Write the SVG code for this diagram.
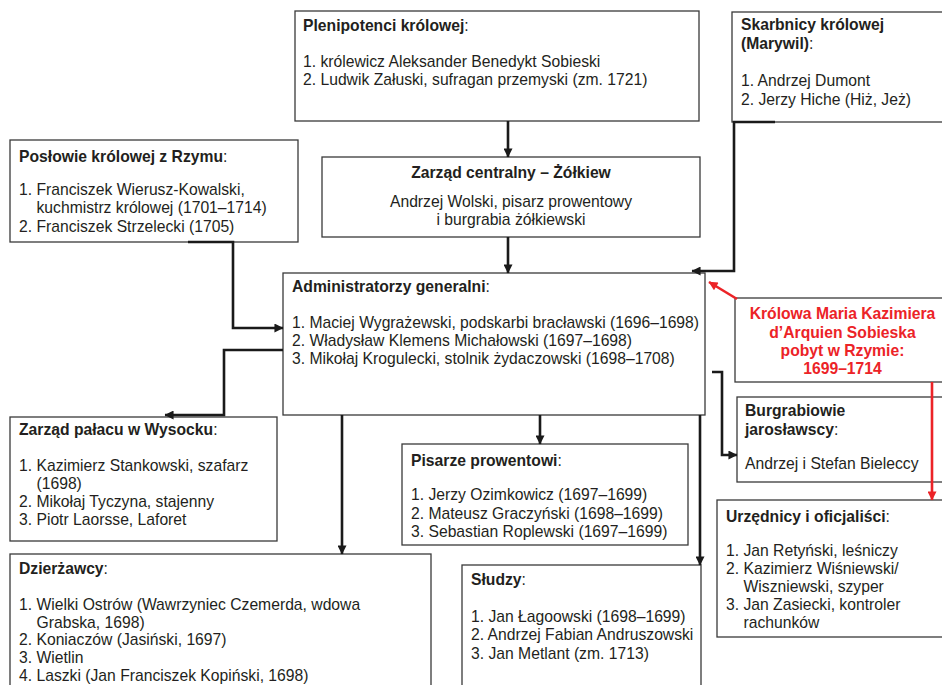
<svg xmlns="http://www.w3.org/2000/svg" width="942" height="685" viewBox="0 0 942 685">
<style>
.b{fill:#fff;stroke:#3a3a3a;stroke-width:1.3}
.rb{fill:#fff;stroke:#3a3a3a;stroke-width:1.3}
text{font-family:"Liberation Sans",Arial,sans-serif;font-size:15.7px;fill:#231f20}
.h{font-weight:bold}
.m{text-anchor:middle}
.red{fill:#ec2327;font-weight:bold;text-anchor:middle}
.c{fill:none;stroke:#1a1a1a;stroke-width:2.6}
.cr{fill:none;stroke:#ec2327;stroke-width:2.6}
</style>
<defs>
<marker id="ah" viewBox="0 0 10 10" refX="9.5" refY="5" markerWidth="10" markerHeight="9" markerUnits="userSpaceOnUse" orient="auto"><path d="M0,0 L10,5 L0,10 z" fill="#1a1a1a"/></marker>
<marker id="ahr" viewBox="0 0 10 10" refX="9.5" refY="5" markerWidth="10" markerHeight="9" markerUnits="userSpaceOnUse" orient="auto"><path d="M0,0 L10,5 L0,10 z" fill="#ec2327"/></marker>
</defs>
<rect width="942" height="685" fill="#fff"/>

<g id="plenipotenci">
<rect class="b" x="295" y="11" width="404" height="110"/>
<text x="303" y="31"><tspan class="h">Plenipotenci królowej</tspan>:</text>
<text x="303" y="67">1. królewicz Aleksander Benedykt Sobieski</text>
<text x="303" y="85">2. Ludwik Załuski, sufragan przemyski (zm. 1721)</text>
</g>

<g id="skarbnicy">
<rect class="b" x="732" y="12" width="220" height="110"/>
<text x="741" y="30" class="h">Skarbnicy królowej</text>
<text x="741" y="49"><tspan class="h">(Marywil)</tspan>:</text>
<text x="741" y="86">1. Andrzej Dumont</text>
<text x="741" y="105">2. Jerzy Hiche (Hiż, Jeż)</text>
</g>

<g id="poslowie">
<rect class="b" x="10" y="140" width="288" height="102"/>
<text x="19" y="162"><tspan class="h">Posłowie królowej z Rzymu</tspan>:</text>
<text x="19" y="195">1. Franciszek Wierusz-Kowalski,</text>
<text x="36.5" y="213">kuchmistrz królowej (1701–1714)</text>
<text x="19" y="232">2. Franciszek Strzelecki (1705)</text>
</g>

<g id="zarzad-centralny">
<rect class="b" x="322" y="157" width="378" height="80"/>
<text x="511" y="178" class="h m">Zarząd centralny – Żółkiew</text>
<text x="511" y="207" class="m">Andrzej Wolski, pisarz prowentowy</text>
<text x="511" y="225" class="m">i burgrabia żółkiewski</text>
</g>

<g id="administratorzy">
<rect class="b" x="283" y="273" width="422" height="142"/>
<text x="292" y="292"><tspan class="h">Administratorzy generalni</tspan>:</text>
<text x="292" y="328">1. Maciej Wygrażewski, podskarbi bracławski (1696–1698)</text>
<text x="292" y="346">2. Władysław Klemens Michałowski (1697–1698)</text>
<text x="292" y="364">3. Mikołaj Krogulecki, stolnik żydaczowski (1698–1708)</text>
</g>

<g id="krolowa">
<rect class="rb" x="735" y="298" width="217" height="84"/>
<text x="842.5" y="319" class="red">Królowa Maria Kazimiera</text>
<text x="842.5" y="338" class="red">d’Arquien Sobieska</text>
<text x="842.5" y="356" class="red">pobyt w Rzymie:</text>
<text x="842.5" y="374" class="red">1699–1714</text>
</g>

<g id="burgrabiowie">
<rect class="b" x="737" y="397" width="215" height="85"/>
<text x="745" y="416" class="h">Burgrabiowie</text>
<text x="745" y="435"><tspan class="h">jarosławscy</tspan>:</text>
<text x="745" y="469">Andrzej i Stefan Bieleccy</text>
</g>

<g id="palac">
<rect class="b" x="10" y="417" width="267" height="124"/>
<text x="19" y="435"><tspan class="h">Zarząd pałacu w Wysocku</tspan>:</text>
<text x="19" y="471">1. Kazimierz Stankowski, szafarz</text>
<text x="36.5" y="489">(1698)</text>
<text x="19" y="507">2. Mikołaj Tyczyna, stajenny</text>
<text x="19" y="525">3. Piotr Laorsse, Laforet</text>
</g>

<g id="pisarze">
<rect class="b" x="402" y="444" width="286" height="101"/>
<text x="411" y="466"><tspan class="h">Pisarze prowentowi</tspan>:</text>
<text x="411" y="500">1. Jerzy Ozimkowicz (1697–1699)</text>
<text x="411" y="519">2. Mateusz Graczyński (1698–1699)</text>
<text x="411" y="537">3. Sebastian Roplewski (1697–1699)</text>
</g>

<g id="urzednicy">
<rect class="b" x="717" y="500" width="235" height="137"/>
<text x="726" y="522"><tspan class="h">Urzędnicy i oficjaliści</tspan>:</text>
<text x="726" y="556">1. Jan Retyński, leśniczy</text>
<text x="726" y="574">2. Kazimierz Wiśniewski/</text>
<text x="743.5" y="592">Wiszniewski, szyper</text>
<text x="726" y="610">3. Jan Zasiecki, kontroler</text>
<text x="743.5" y="628">rachunków</text>
</g>

<g id="dzierzawcy">
<rect class="b" x="10" y="554" width="421" height="150"/>
<text x="19" y="574"><tspan class="h">Dzierżawcy</tspan>:</text>
<text x="19" y="610">1. Wielki Ostrów (Wawrzyniec Czemerda, wdowa</text>
<text x="36.5" y="627.5">Grabska, 1698)</text>
<text x="19" y="645">2. Koniaczów (Jasiński, 1697)</text>
<text x="19" y="663">3. Wietlin</text>
<text x="19" y="680.5">4. Laszki (Jan Franciszek Kopiński, 1698)</text>
</g>

<g id="sludzy">
<rect class="b" x="462" y="565" width="239" height="140"/>
<text x="471" y="585"><tspan class="h">Słudzy</tspan>:</text>
<text x="471" y="622">1. Jan Łagoowski (1698–1699)</text>
<text x="471" y="640">2. Andrzej Fabian Andruszowski</text>
<text x="471" y="659">3. Jan Metlant (zm. 1713)</text>
</g>

<g id="connectors">
<path class="c" d="M508,121 V157" marker-end="url(#ah)"/>
<path class="c" d="M508,237 V273" marker-end="url(#ah)"/>
<path class="c" d="M775,122 H734 V271 H692" marker-end="url(#ah)"/>
<path class="c" d="M188,242 H233 V328 H283" marker-end="url(#ah)"/>
<path class="c" d="M283,350 H224 V415 H165" marker-end="url(#ah)"/>
<path class="c" d="M342,415 V554" marker-end="url(#ah)"/>
<path class="c" d="M540,415 V444" marker-end="url(#ah)"/>
<path class="c" d="M700,415 V565" marker-end="url(#ah)"/>
<path class="c" d="M712,372 H722 V455 H737" marker-end="url(#ah)"/>
<path class="cr" d="M737,299 L709,282" marker-end="url(#ahr)"/>
<path class="cr" d="M932,382 V500" marker-end="url(#ahr)"/>
</g>
</svg>
